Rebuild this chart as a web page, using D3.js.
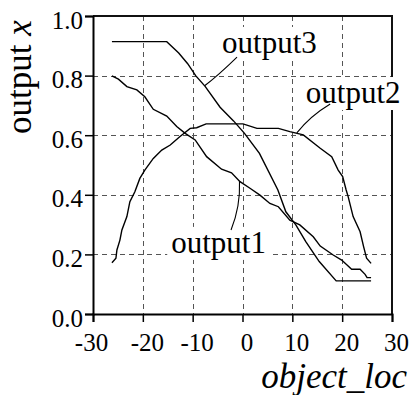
<!DOCTYPE html>
<html>
<head>
<meta charset="utf-8">
<script src="https://cdn.jsdelivr.net/npm/d3@7/dist/d3.min.js"></script>
<style>
  html, body { margin: 0; padding: 0; background: #fff; }
  svg text { font-family: "Liberation Serif", "Times New Roman", serif; fill: #000; }
</style>
</head>
<body>
<div id="chart"></div>
<script>
// values
const xTicks = [-30, -20, -10, 0, 10, 20, 30];
const yTicks = [0.0, 0.2, 0.4, 0.6, 0.8, 1.0];

const output1 = [
  [-26.2, 0.799], [-24.9, 0.788], [-23.2, 0.763], [-21.2, 0.752], [-19.6, 0.729],
  [-17.9, 0.687], [-15.2, 0.664], [-13.2, 0.629], [-11.5, 0.606], [-9.5, 0.584],
  [-7.2, 0.528], [-4.2, 0.486], [-2.2, 0.474], [-0.5, 0.444], [1.5, 0.422],
  [3.5, 0.399], [5.5, 0.371], [7.2, 0.360], [9.5, 0.315], [11.5, 0.299],
  [14.2, 0.259], [15.6, 0.228], [18.2, 0.198], [19.9, 0.181], [21.9, 0.150],
  [23.6, 0.150], [24.6, 0.133], [25.0, 0.122], [25.8, 0.122]
];
const output2 = [
  [-26.2, 0.172], [-25.4, 0.187], [-25.2, 0.215], [-24.6, 0.248], [-24.2, 0.282],
  [-23.2, 0.327], [-22.6, 0.377], [-21.6, 0.410], [-20.6, 0.455], [-19.6, 0.483],
  [-17.9, 0.522], [-16.2, 0.550], [-14.5, 0.567], [-12.6, 0.595], [-10.5, 0.623],
  [-9.2, 0.625], [-7.3, 0.638], [0.1, 0.638], [2.9, 0.623], [7.2, 0.623],
  [9.5, 0.612], [12.2, 0.601], [15.6, 0.556], [17.9, 0.528], [19.2, 0.483],
  [20.1, 0.461], [20.8, 0.416], [21.2, 0.394], [22.2, 0.327], [23.6, 0.276],
  [24.3, 0.226], [24.9, 0.187], [25.8, 0.170]
];
const output3 = [
  [-26.2, 0.914], [-15.2, 0.914], [-12.8, 0.876], [-11.0, 0.840], [-9.4, 0.800],
  [-7.5, 0.764], [-4.5, 0.694], [-1.8, 0.648], [0.4, 0.606], [3.4, 0.539],
  [7.1, 0.416], [8.7, 0.343], [10.7, 0.299], [12.7, 0.243], [15.4, 0.176],
  [18.8, 0.111], [25.8, 0.111]
];

// callout labels: text position, leader start, leader end on the curve (data units)
const labelNames = ['output1', 'output2', 'output3'];
const labelPos = [[-14.3, 0.205], [12.7, 0.708], [-4.1, 0.876]];
const leaderFrom = [[-2.3, 0.282], [17.6, 0.705], [-1.1, 0.862]];
const leaderTo = [[-0.6, 0.446], [10.9, 0.608], [-7.6, 0.766]];
const leaderBend = [[-0.4, 0.36], [13.6, 0.665], [-4.9, 0.80]];

const width = 412;
const height = 395;
const margin = {top: 16, right: 20, bottom: 81, left: 93};
const serif = '"Liberation Serif", "Times New Roman", serif';

const svg = d3.select('#chart').append('svg')
  .attr('width', width)
  .attr('height', height);

const x = d3.scaleLinear().domain([-30, 30]).range([margin.left, width - margin.right]);
const y = d3.scaleLinear().domain([0, 1]).range([height - margin.bottom, margin.top]);

// grid
const grid = svg.append('g')
  .attr('stroke', '#555')
  .attr('stroke-width', 1)
  .attr('stroke-dasharray', '5,4');
grid.selectAll('.vgrid')
  .data(xTicks.filter(d => d > -30 && d < 30))
  .enter().append('line')
  .attr('class', 'vgrid')
  .attr('x1', d => Math.round(x(d)) + 0.5).attr('x2', d => Math.round(x(d)) + 0.5)
  .attr('y1', y(1)).attr('y2', y(0));
grid.selectAll('.hgrid')
  .data(yTicks.filter(d => d > 0 && d < 1))
  .enter().append('line')
  .attr('class', 'hgrid')
  .attr('y1', d => Math.round(y(d)) + 0.5).attr('y2', d => Math.round(y(d)) + 0.5)
  .attr('x1', x(-30)).attr('x2', x(30));

// curves
const line = d3.line().x(d => x(d[0])).y(d => y(d[1]));
svg.selectAll('.curve')
  .data([output1, output2, output3])
  .enter().append('path')
  .attr('class', 'curve')
  .attr('d', line)
  .attr('fill', 'none')
  .attr('stroke', '#000')
  .attr('stroke-width', 1.4);

// frame (top / right)
svg.append('path')
  .attr('d', `M${x(-30)},${y(1)}H${x(30)}V${y(0)}`)
  .attr('fill', 'none')
  .attr('stroke', '#111')
  .attr('stroke-width', 2);

// axes
const xAxis = svg.append('g')
  .attr('transform', `translate(0,${y(0)})`)
  .call(d3.axisBottom(x).tickValues(xTicks).tickSize(8).tickFormat(d => String(d)));
const yAxis = svg.append('g')
  .attr('transform', `translate(${x(-30)},0)`)
  .call(d3.axisLeft(y).tickValues(yTicks).tickSize(8).tickFormat(d => d.toFixed(1)));

[xAxis, yAxis].forEach(a => {
  a.attr('font-family', serif).attr('font-size', 25);
  a.select('.domain').attr('stroke', '#000').attr('stroke-width', 2);
  a.selectAll('.tick line').attr('stroke', '#000').attr('stroke-width', 1.5);
  a.selectAll('.tick text').attr('fill', '#000').attr('font-family', serif).attr('font-size', 25);
});
xAxis.selectAll('.tick text').attr('dy', null).attr('y', 37).attr('dx', d => d < -20 ? -2 : 4);
yAxis.selectAll('.tick text').attr('dy', 12).attr('x', -10);

// axis titles
svg.append('text')
  .attr('transform', `translate(31,77) rotate(-90)`)
  .attr('text-anchor', 'middle')
  .style('font-size', '35px')
  .html('output <tspan font-style="italic">x</tspan>');

svg.append('text')
  .attr('x', 407)
  .attr('y', 388)
  .attr('text-anchor', 'end')
  .style('font-size', '35px')
  .style('font-style', 'italic')
  .text('object_loc');

// callouts
const callouts = svg.selectAll('.callout')
  .data(labelNames)
  .enter().append('g')
  .attr('class', 'callout');

callouts.append('text')
  .attr('x', (d, i) => x(labelPos[i][0]))
  .attr('y', (d, i) => y(labelPos[i][1]))
  .style('font-size', '31px')
  .text(d => d);

callouts.each(function () {
  const g = d3.select(this);
  const b = g.select('text').node().getBBox();
  g.insert('rect', 'text')
    .attr('x', b.x - 4).attr('y', b.y + 2)
    .attr('width', b.width + 8).attr('height', b.height - 2)
    .attr('fill', '#fff');
});

callouts.append('path')
  .attr('d', (d, i) => `M${x(leaderFrom[i][0])},${y(leaderFrom[i][1])}Q${x(leaderBend[i][0])},${y(leaderBend[i][1])} ${x(leaderTo[i][0])},${y(leaderTo[i][1])}`)
  .attr('fill', 'none')
  .attr('stroke', '#000')
  .attr('stroke-width', 1.1);
</script>
</body>
</html>
